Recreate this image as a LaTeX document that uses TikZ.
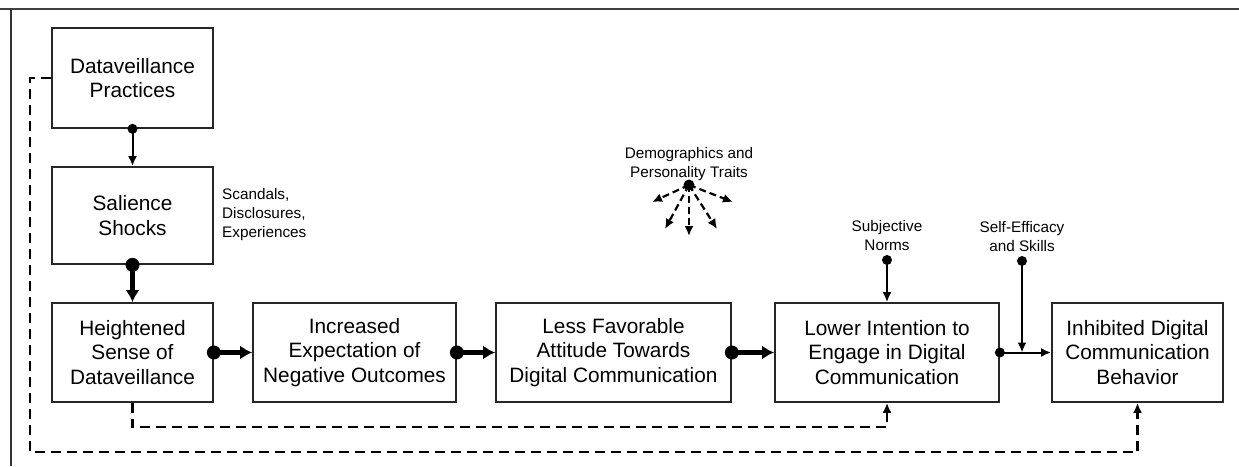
\documentclass[tikz,border=0pt]{standalone}
\usepackage{fontspec}
\setmainfont{Liberation Sans}
\usetikzlibrary{arrows.meta}
\begin{document}
\begin{tikzpicture}[x=1pt,y=-1pt,
  box/.style={draw=black!85,line width=1.7pt,minimum height=99pt,inner sep=0pt,align=center,font=\fontsize{20.8}{24.5}\selectfont},
  lbl/.style={align=center,font=\fontsize{15.3}{19}\selectfont,inner sep=0pt},
  thinarr/.style={line width=2pt,-{Latex[length=10pt,width=9pt]}},
  thickarr/.style={line width=4.5pt,-{Latex[length=12pt,width=14pt]}},
  dasharr/.style={line width=2.2pt,dash pattern=on 10pt off 6pt,-{Latex[length=10pt,width=9pt]}},
  dot/.style={fill=black},
]
\useasboundingbox (0,0) rectangle (1239,466);
\draw[line width=2.2pt,black!75] (0,9) -- (1239,9);
\draw[line width=1.8pt,black!80] (11,9) -- (11,466);

% boxes
\node[box,minimum width=161pt,minimum height=100pt] (P) at (132.5,78) {Dataveillance\\Practices};
\node[box,minimum width=161pt,minimum height=97pt] (S) at (132.5,215.5) {Salience\\Shocks};
\node[box,minimum width=161pt] (H) at (132.5,352.5) {Heightened\\Sense of\\Dataveillance};
\node[box,minimum width=203pt] (E) at (354.5,352.5) {Increased\\Expectation of\\Negative Outcomes};
\node[box,minimum width=235pt] (A) at (613.5,352.5) {Less Favorable\\Attitude Towards\\Digital Communication};
\node[box,minimum width=224pt] (L) at (887,352.5) {Lower Intention to\\Engage in Digital\\Communication};
\node[box,minimum width=171pt] (I) at (1137.5,352.5) {Inhibited Digital\\Communication\\Behavior};

% labels
\node[lbl,anchor=west,align=left] (sc) at (222,215) {Scandals,\\Disclosures,\\Experiences};
\node[lbl] (dg) at (689,164) {Demographics and\\Personality Traits};
\node[lbl] (sn) at (887,236) {Subjective\\Norms};
\node[lbl] (se) at (1022,237) {Self-Efficacy\\and Skills};

% main chain
\draw[thinarr] (P.south) -- (S.north);
\fill[dot] (P.south) circle (5);
\draw[thickarr] (S.south) -- (H.north);
\fill[dot] (S.south) circle (7);
\draw[thickarr] (H.east) -- (E.west);
\fill[dot] (H.east) circle (7);
\draw[thickarr] (E.east) -- (A.west);
\fill[dot] (E.east) circle (7);
\draw[thickarr] (A.east) -- (L.west);
\fill[dot] (A.east) circle (7);
\draw[thinarr] (L.east) -- (I.west);
\fill[dot] (L.east) circle (5);

% moderators
\coordinate (snd) at (887,260);
\draw[thinarr] (snd) -- (L.north);
\fill[dot] (snd) circle (5);
\coordinate (sed) at (1022,261);
\coordinate (sej) at (1022,352.5);
\draw[thinarr] (sed) -- (sej);
\fill[dot] (sed) circle (5);

% demographics fan
\coordinate (dgd) at (689,185);
\coordinate (d1) at (652,202);
\coordinate (d2) at (665,229);
\coordinate (d3) at (689,236);
\coordinate (d4) at (717,229);
\coordinate (d5) at (733,202);
\foreach \t in {d1,d2,d3,d4,d5} \draw[dasharr,dash pattern=on 7pt off 4pt] (dgd) -- (\t);
\fill[dot] (dgd) circle (5.5);

% dashed feedback paths
\coordinate (f1) at (132.5,427);
\draw[dasharr] (H.south) -- (f1) -| (L.south);
\coordinate (f2) at (30,452);
\draw[dasharr] (P.west) -| (f2) -| (I.south);
\end{tikzpicture}
\end{document}
